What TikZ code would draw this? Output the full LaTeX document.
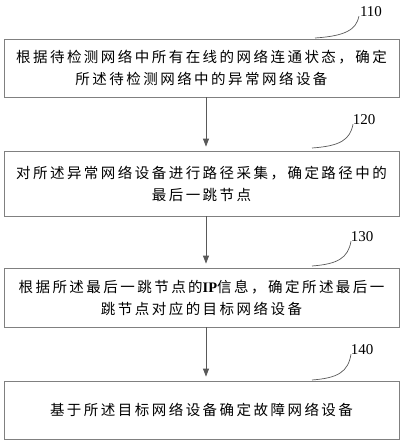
\documentclass[tikz,border=0pt]{standalone}
\usepackage{fontspec}
\newfontfamily\cjk[LetterSpace=17]{Noto Sans CJK SC}
\setmainfont{Liberation Serif}
\usetikzlibrary{arrows.meta}
\begin{document}
\begin{tikzpicture}[x=1pt,y=-1pt,
  stepbox/.style={draw=black!50,line width=0.8pt,minimum width=395pt,inner sep=0pt,align=center,
    font=\fontsize{14.5}{22}\cjk},
  flow/.style={draw=black!65,line width=0.8pt,-{Triangle[length=8pt,width=6pt]},shorten >=4pt},
  lead/.style={draw=black!65,line width=0.7pt},
  num/.style={font=\fontsize{15}{15}\selectfont,inner sep=0pt}]
\useasboundingbox (0,0) rectangle (404,444);
\node[stepbox,minimum height=58pt] (b1) at (201.5,68) {根据待检测网络中所有在线的网络连通状态，确定\\所述待检测网络中的异常网络设备};
\node[stepbox,minimum height=65pt] (b2) at (201.5,183.5) {对所述异常网络设备进行路径采集，确定路径中的\\最后一跳节点};
\node[stepbox,minimum height=59pt] (b3) at (201.5,297.5) {根据所述最后一跳节点的{\rmfamily\bfseries IP}信息，确定所述最后一\\跳节点对应的目标网络设备};
\node[stepbox,minimum height=58pt] (b4) at (201.5,410) {基于所述目标网络设备确定故障网络设备};
\draw[flow] (b1.south -| 206,0) -- (b2.north -| 206,0);
\draw[flow] (b2.south -| 206,0) -- (b3.north -| 206,0);
\draw[flow] (b3.south -| 206,0) -- (b4.north -| 206,0);
\node[num] (n1) at (371,12) {110};
\node[num] (n2) at (364,120) {120};
\node[num] (n3) at (362,237) {130};
\node[num] (n4) at (362,350) {140};
\coordinate (c1) at (315,38);
\coordinate (c2) at (312,148);
\coordinate (c3) at (312,266);
\coordinate (c4) at (312,380);
\draw[lead] (c1) .. controls (345,36) and (356,30) .. ([xshift=-12pt,yshift=1pt]n1.south);
\draw[lead] (c2) .. controls (340,146) and (350,140) .. ([xshift=-11pt,yshift=1pt]n2.south);
\draw[lead] (c3) .. controls (338,264) and (348,258) .. ([xshift=-11pt,yshift=1pt]n3.south);
\draw[lead] (c4) .. controls (338,378) and (348,372) .. ([xshift=-11pt,yshift=1pt]n4.south);
\end{tikzpicture}
\end{document}
